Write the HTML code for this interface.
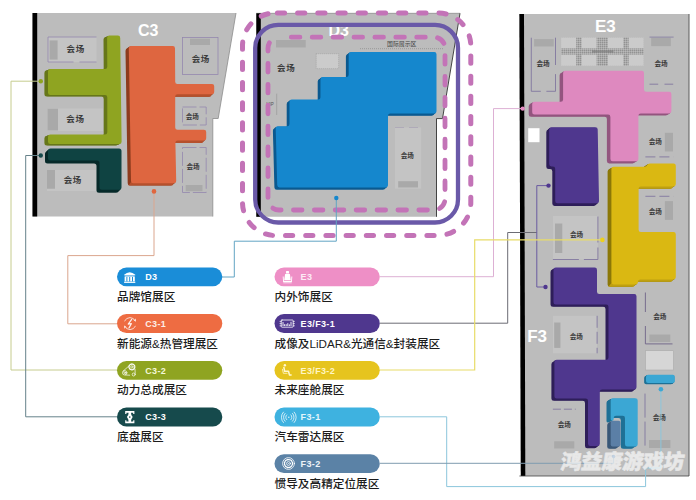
<!DOCTYPE html>
<html><head><meta charset="utf-8"><title>Exhibition floor plan</title>
<style>
html,body{margin:0;padding:0;background:#fff;}
body{width:696px;height:500px;overflow:hidden;font-family:"Liberation Sans","Noto Sans CJK SC",sans-serif;}
svg{display:block;font-family:"Liberation Sans","Noto Sans CJK SC",sans-serif;}
</style></head>
<body>
<svg width="696" height="500" viewBox="0 0 696 500">
<g id="hall-c3">
<polygon points="32.5,13.0 236.0,13.0 218.2,118.5 212.8,118.5 212.8,216.5 32.5,216.5" fill="#bcbcbc" />
<polyline points="236.0,13.0 218.2,118.5 212.8,118.5 212.8,216.5" fill="none" stroke="#8c8c8c" stroke-width="0.8" />
<rect x="32.5" y="13.0" width="4.7" height="203.5" fill="#000" />
<rect x="48.0" y="37.0" width="48.5" height="25.0" fill="#c4c4c4" />
<polyline points="96.5,37.0 48.0,37.0 48.0,62.0 73.5,62.0" fill="none" stroke="#9488ae" stroke-width="0.8" />
<polyline points="79.5,62.0 96.5,62.0" fill="none" stroke="#9488ae" stroke-width="0.8" />
<rect x="49.6" y="40.4" width="8.0" height="19.2" fill="#a9a9a9" />
<text x="66.45" y="52.15" font-size="8.5" font-weight="700" fill="#3c3c3c" letter-spacing="0.7">会场</text>
<rect x="47.5" y="108.5" width="55.5" height="22.5" fill="#c4c4c4" />
<rect x="47.5" y="108.7" width="10.5" height="21.8" fill="#a9a9a9" />
<text x="66.25" y="121.94" font-size="8.5" font-weight="700" fill="#3c3c3c" letter-spacing="0.7">会场</text>
<rect x="47.0" y="170.0" width="49.0" height="21.0" fill="#c4c4c4" />
<rect x="47.0" y="170.0" width="8.0" height="18.7" fill="#a9a9a9" />
<text x="63.65" y="182.55" font-size="8.5" font-weight="700" fill="#3c3c3c" letter-spacing="0.7">会场</text>
<rect x="182.5" y="37.5" width="35.5" height="37.0" fill="#bcbcbc" stroke="#9488ae" stroke-width="0.8"/>
<rect x="190.0" y="38.7" width="20.0" height="6.3" fill="#a9a9a9" />
<text x="191.65" y="61.95" font-size="8.5" font-weight="700" fill="#3c3c3c" letter-spacing="0.7">会场</text>
<rect x="182.5" y="107.0" width="23.7" height="18.0" fill="#bcbcbc" stroke="#9488ae" stroke-width="0.8" stroke-dasharray="14 3"/>
<text x="185.70" y="119.34" font-size="6.6" font-weight="700" fill="#3c3c3c">会场</text>
<rect x="182.5" y="147.5" width="23.7" height="45.0" fill="#bcbcbc" stroke="#9488ae" stroke-width="0.8" stroke-dasharray="14 3"/>
<rect x="185.7" y="185.0" width="16.8" height="6.2" fill="#a9a9a9" />
<text x="186.40" y="169.34" font-size="6.6" font-weight="700" fill="#3c3c3c">会场</text>
<path d="M107.1,37.9Q107.1,35.6 109.4,35.6L117.9,35.6Q120.2,35.6 120.2,37.9L121.6,141.7Q121.6,144.0 119.3,144.0L50.3,144.0Q48.0,144.0 48.0,141.7L48.0,136.8Q48.0,134.5 50.3,134.5L105.0,134.5Q107.3,134.5 107.3,132.2L107.3,97.3Q107.3,95.0 105.0,95.0L50.3,95.0Q48.0,95.0 48.0,92.7L48.0,71.3Q48.0,69.0 50.3,69.0L105.0,69.0Q107.3,69.0 107.3,66.7Z" fill="#67771a" transform="translate(-3.60,1.60)"/><path d="M107.1,37.9Q107.1,35.6 109.4,35.6L117.9,35.6Q120.2,35.6 120.2,37.9L121.6,141.7Q121.6,144.0 119.3,144.0L50.3,144.0Q48.0,144.0 48.0,141.7L48.0,136.8Q48.0,134.5 50.3,134.5L105.0,134.5Q107.3,134.5 107.3,132.2L107.3,97.3Q107.3,95.0 105.0,95.0L50.3,95.0Q48.0,95.0 48.0,92.7L48.0,71.3Q48.0,69.0 50.3,69.0L105.0,69.0Q107.3,69.0 107.3,66.7Z" fill="#67771a" transform="translate(-2.70,1.20)"/><path d="M107.1,37.9Q107.1,35.6 109.4,35.6L117.9,35.6Q120.2,35.6 120.2,37.9L121.6,141.7Q121.6,144.0 119.3,144.0L50.3,144.0Q48.0,144.0 48.0,141.7L48.0,136.8Q48.0,134.5 50.3,134.5L105.0,134.5Q107.3,134.5 107.3,132.2L107.3,97.3Q107.3,95.0 105.0,95.0L50.3,95.0Q48.0,95.0 48.0,92.7L48.0,71.3Q48.0,69.0 50.3,69.0L105.0,69.0Q107.3,69.0 107.3,66.7Z" fill="#67771a" transform="translate(-1.80,0.80)"/><path d="M107.1,37.9Q107.1,35.6 109.4,35.6L117.9,35.6Q120.2,35.6 120.2,37.9L121.6,141.7Q121.6,144.0 119.3,144.0L50.3,144.0Q48.0,144.0 48.0,141.7L48.0,136.8Q48.0,134.5 50.3,134.5L105.0,134.5Q107.3,134.5 107.3,132.2L107.3,97.3Q107.3,95.0 105.0,95.0L50.3,95.0Q48.0,95.0 48.0,92.7L48.0,71.3Q48.0,69.0 50.3,69.0L105.0,69.0Q107.3,69.0 107.3,66.7Z" fill="#67771a" transform="translate(-0.90,0.40)"/><path d="M107.1,37.9Q107.1,35.6 109.4,35.6L117.9,35.6Q120.2,35.6 120.2,37.9L121.6,141.7Q121.6,144.0 119.3,144.0L50.3,144.0Q48.0,144.0 48.0,141.7L48.0,136.8Q48.0,134.5 50.3,134.5L105.0,134.5Q107.3,134.5 107.3,132.2L107.3,97.3Q107.3,95.0 105.0,95.0L50.3,95.0Q48.0,95.0 48.0,92.7L48.0,71.3Q48.0,69.0 50.3,69.0L105.0,69.0Q107.3,69.0 107.3,66.7Z" fill="#8fa421"/>
<path d="M48.0,150.9Q48.0,148.4 50.5,148.4L119.0,148.4Q121.5,148.4 121.5,150.9L121.5,187.3Q121.5,189.8 119.0,189.8L102.0,189.8Q99.5,189.8 99.5,187.3L99.5,163.0Q99.5,160.5 97.0,160.5L50.5,160.5Q48.0,160.5 48.0,158.0Z" fill="#072a2a" transform="translate(-3.00,3.00)"/><path d="M48.0,150.9Q48.0,148.4 50.5,148.4L119.0,148.4Q121.5,148.4 121.5,150.9L121.5,187.3Q121.5,189.8 119.0,189.8L102.0,189.8Q99.5,189.8 99.5,187.3L99.5,163.0Q99.5,160.5 97.0,160.5L50.5,160.5Q48.0,160.5 48.0,158.0Z" fill="#072a2a" transform="translate(-2.25,2.25)"/><path d="M48.0,150.9Q48.0,148.4 50.5,148.4L119.0,148.4Q121.5,148.4 121.5,150.9L121.5,187.3Q121.5,189.8 119.0,189.8L102.0,189.8Q99.5,189.8 99.5,187.3L99.5,163.0Q99.5,160.5 97.0,160.5L50.5,160.5Q48.0,160.5 48.0,158.0Z" fill="#072a2a" transform="translate(-1.50,1.50)"/><path d="M48.0,150.9Q48.0,148.4 50.5,148.4L119.0,148.4Q121.5,148.4 121.5,150.9L121.5,187.3Q121.5,189.8 119.0,189.8L102.0,189.8Q99.5,189.8 99.5,187.3L99.5,163.0Q99.5,160.5 97.0,160.5L50.5,160.5Q48.0,160.5 48.0,158.0Z" fill="#072a2a" transform="translate(-0.75,0.75)"/><path d="M48.0,150.9Q48.0,148.4 50.5,148.4L119.0,148.4Q121.5,148.4 121.5,150.9L121.5,187.3Q121.5,189.8 119.0,189.8L102.0,189.8Q99.5,189.8 99.5,187.3L99.5,163.0Q99.5,160.5 97.0,160.5L50.5,160.5Q48.0,160.5 48.0,158.0Z" fill="#0f4342"/>
<path d="M128.8,48.3Q128.8,46.0 131.1,46.0L172.7,46.0Q175.0,46.0 175.0,48.3L175.2,81.7Q175.2,84.0 177.5,84.0L211.9,84.0Q214.2,84.0 214.2,86.3L214.2,92.0Q214.2,94.3 211.9,94.3L177.5,94.3Q175.2,94.3 175.2,96.6L175.2,127.4Q175.2,129.7 177.5,129.7L203.9,129.7Q206.2,129.7 206.2,132.0L206.2,138.2Q206.2,140.5 203.9,140.5L177.7,140.5Q175.4,140.5 175.4,142.8L176.2,180.9Q176.2,183.2 173.9,183.2L133.3,183.2Q131.0,183.2 131.0,180.9Z" fill="#8e3c1e" transform="translate(-3.30,2.40)"/><path d="M128.8,48.3Q128.8,46.0 131.1,46.0L172.7,46.0Q175.0,46.0 175.0,48.3L175.2,81.7Q175.2,84.0 177.5,84.0L211.9,84.0Q214.2,84.0 214.2,86.3L214.2,92.0Q214.2,94.3 211.9,94.3L177.5,94.3Q175.2,94.3 175.2,96.6L175.2,127.4Q175.2,129.7 177.5,129.7L203.9,129.7Q206.2,129.7 206.2,132.0L206.2,138.2Q206.2,140.5 203.9,140.5L177.7,140.5Q175.4,140.5 175.4,142.8L176.2,180.9Q176.2,183.2 173.9,183.2L133.3,183.2Q131.0,183.2 131.0,180.9Z" fill="#8e3c1e" transform="translate(-2.47,1.80)"/><path d="M128.8,48.3Q128.8,46.0 131.1,46.0L172.7,46.0Q175.0,46.0 175.0,48.3L175.2,81.7Q175.2,84.0 177.5,84.0L211.9,84.0Q214.2,84.0 214.2,86.3L214.2,92.0Q214.2,94.3 211.9,94.3L177.5,94.3Q175.2,94.3 175.2,96.6L175.2,127.4Q175.2,129.7 177.5,129.7L203.9,129.7Q206.2,129.7 206.2,132.0L206.2,138.2Q206.2,140.5 203.9,140.5L177.7,140.5Q175.4,140.5 175.4,142.8L176.2,180.9Q176.2,183.2 173.9,183.2L133.3,183.2Q131.0,183.2 131.0,180.9Z" fill="#8e3c1e" transform="translate(-1.65,1.20)"/><path d="M128.8,48.3Q128.8,46.0 131.1,46.0L172.7,46.0Q175.0,46.0 175.0,48.3L175.2,81.7Q175.2,84.0 177.5,84.0L211.9,84.0Q214.2,84.0 214.2,86.3L214.2,92.0Q214.2,94.3 211.9,94.3L177.5,94.3Q175.2,94.3 175.2,96.6L175.2,127.4Q175.2,129.7 177.5,129.7L203.9,129.7Q206.2,129.7 206.2,132.0L206.2,138.2Q206.2,140.5 203.9,140.5L177.7,140.5Q175.4,140.5 175.4,142.8L176.2,180.9Q176.2,183.2 173.9,183.2L133.3,183.2Q131.0,183.2 131.0,180.9Z" fill="#8e3c1e" transform="translate(-0.82,0.60)"/><polygon points="213.6,92.0 176.0,92.0 172.7,96.7 210.3,96.7" fill="#b5502c"/><polygon points="205.6,138.2 176.2,138.2 172.9,142.9 202.3,142.9" fill="#b5502c"/><polygon points="175.6,180.9 131.8,180.9 128.5,185.6 172.3,185.6" fill="#b5502c"/><path d="M128.8,48.3Q128.8,46.0 131.1,46.0L172.7,46.0Q175.0,46.0 175.0,48.3L175.2,81.7Q175.2,84.0 177.5,84.0L211.9,84.0Q214.2,84.0 214.2,86.3L214.2,92.0Q214.2,94.3 211.9,94.3L177.5,94.3Q175.2,94.3 175.2,96.6L175.2,127.4Q175.2,129.7 177.5,129.7L203.9,129.7Q206.2,129.7 206.2,132.0L206.2,138.2Q206.2,140.5 203.9,140.5L177.7,140.5Q175.4,140.5 175.4,142.8L176.2,180.9Q176.2,183.2 173.9,183.2L133.3,183.2Q131.0,183.2 131.0,180.9Z" fill="#de6640"/>
<text x="138" y="36" font-size="16" font-weight="700" fill="#fff">C3</text>
</g>
<g id="hall-d3">
<polygon points="256.3,13.3 460.0,13.3 442.5,118.6 436.7,118.6 436.7,216.8 256.3,216.8" fill="#bcbcbc" />
<polyline points="256.3,13.3 460.0,13.3" fill="none" stroke="#777" stroke-width="0.6" />
<polyline points="460.0,13.3 442.5,118.6 436.5,118.6 436.5,216.8" fill="none" stroke="#333" stroke-width="0.9" />
<rect x="256.3" y="13.3" width="4.5" height="203.5" fill="#000" />
<rect x="276.0" y="40.0" width="29.7" height="7.5" fill="#a9a9a9" />
<text x="276.95" y="71.34" font-size="8.5" font-weight="700" fill="#3c3c3c" letter-spacing="0.7">会场</text>
<rect x="316.2" y="53.7" width="22.5" height="15.0" fill="#cbcbcb" stroke="#999" stroke-width="0.6" stroke-dasharray="1 1"/>
<polyline points="276.7,93.7 276.7,115.0" fill="none" stroke="#999" stroke-width="0.7" />
<text x="266.5" y="106.2" font-size="4.5" fill="#555">VIP</text>
<polyline points="360.0,48.7 443.7,48.7" fill="none" stroke="#888" stroke-width="0.7" stroke-dasharray="1 1"/>
<text x="387.00" y="45.90" font-size="5.9" fill="#444">国际展示区</text>
<rect x="395.0" y="127.5" width="26.2" height="61.2" fill="#c4c4c4" />
<rect x="398.2" y="181.2" width="19.8" height="6.3" fill="#a9a9a9" />
<polyline points="395.0,127.5 421.2,127.5" fill="none" stroke="#a8a0b4" stroke-width="0.7" stroke-dasharray="9 5"/>
<text x="400.70" y="158.44" font-size="6.6" font-weight="700" fill="#3c3c3c">会场</text>
<path d="M348.7,54.3Q348.7,52.0 351.0,52.0L434.2,52.0Q436.5,52.0 436.5,54.3L436.5,111.2Q436.5,113.5 434.2,113.5L390.3,113.5Q388.0,113.5 388.0,115.8L388.0,185.1Q388.0,187.4 385.7,187.4L279.6,187.4Q277.3,187.4 277.2,185.1L275.7,128.5Q275.6,126.2 277.9,126.2L287.2,126.2Q289.5,126.2 289.5,123.9L289.5,101.8Q289.5,99.5 291.8,99.5L318.2,99.5Q320.5,99.5 320.5,97.2L320.5,79.3Q320.5,77.0 322.8,77.0L346.4,77.0Q348.7,77.0 348.7,74.7Z" fill="#0b5a90" transform="translate(-2.80,2.30)"/><path d="M348.7,54.3Q348.7,52.0 351.0,52.0L434.2,52.0Q436.5,52.0 436.5,54.3L436.5,111.2Q436.5,113.5 434.2,113.5L390.3,113.5Q388.0,113.5 388.0,115.8L388.0,185.1Q388.0,187.4 385.7,187.4L279.6,187.4Q277.3,187.4 277.2,185.1L275.7,128.5Q275.6,126.2 277.9,126.2L287.2,126.2Q289.5,126.2 289.5,123.9L289.5,101.8Q289.5,99.5 291.8,99.5L318.2,99.5Q320.5,99.5 320.5,97.2L320.5,79.3Q320.5,77.0 322.8,77.0L346.4,77.0Q348.7,77.0 348.7,74.7Z" fill="#0b5a90" transform="translate(-2.10,1.72)"/><path d="M348.7,54.3Q348.7,52.0 351.0,52.0L434.2,52.0Q436.5,52.0 436.5,54.3L436.5,111.2Q436.5,113.5 434.2,113.5L390.3,113.5Q388.0,113.5 388.0,115.8L388.0,185.1Q388.0,187.4 385.7,187.4L279.6,187.4Q277.3,187.4 277.2,185.1L275.7,128.5Q275.6,126.2 277.9,126.2L287.2,126.2Q289.5,126.2 289.5,123.9L289.5,101.8Q289.5,99.5 291.8,99.5L318.2,99.5Q320.5,99.5 320.5,97.2L320.5,79.3Q320.5,77.0 322.8,77.0L346.4,77.0Q348.7,77.0 348.7,74.7Z" fill="#0b5a90" transform="translate(-1.40,1.15)"/><path d="M348.7,54.3Q348.7,52.0 351.0,52.0L434.2,52.0Q436.5,52.0 436.5,54.3L436.5,111.2Q436.5,113.5 434.2,113.5L390.3,113.5Q388.0,113.5 388.0,115.8L388.0,185.1Q388.0,187.4 385.7,187.4L279.6,187.4Q277.3,187.4 277.2,185.1L275.7,128.5Q275.6,126.2 277.9,126.2L287.2,126.2Q289.5,126.2 289.5,123.9L289.5,101.8Q289.5,99.5 291.8,99.5L318.2,99.5Q320.5,99.5 320.5,97.2L320.5,79.3Q320.5,77.0 322.8,77.0L346.4,77.0Q348.7,77.0 348.7,74.7Z" fill="#0b5a90" transform="translate(-0.70,0.57)"/><path d="M348.7,54.3Q348.7,52.0 351.0,52.0L434.2,52.0Q436.5,52.0 436.5,54.3L436.5,111.2Q436.5,113.5 434.2,113.5L390.3,113.5Q388.0,113.5 388.0,115.8L388.0,185.1Q388.0,187.4 385.7,187.4L279.6,187.4Q277.3,187.4 277.2,185.1L275.7,128.5Q275.6,126.2 277.9,126.2L287.2,126.2Q289.5,126.2 289.5,123.9L289.5,101.8Q289.5,99.5 291.8,99.5L318.2,99.5Q320.5,99.5 320.5,97.2L320.5,79.3Q320.5,77.0 322.8,77.0L346.4,77.0Q348.7,77.0 348.7,74.7Z" fill="#1587cd"/>
<text x="328.5" y="36.2" font-size="16" font-weight="700" fill="#fff">D3</text>
</g>
<rect x="242.5" y="12.9" width="228.3" height="222.6" rx="33" ry="33" fill="none" stroke="#c373b7" stroke-width="5" stroke-dasharray="7.2 13" stroke-dashoffset="-1.9" stroke-linecap="round"/>
<rect x="255.2" y="24.9" width="202.8" height="197.6" rx="23" ry="23" fill="none" stroke="#6a59a8" stroke-width="4.3"/>
<rect x="268" y="37.2" width="177" height="172.8" rx="11" ry="11" fill="none" stroke="#c373b7" stroke-width="4.8" stroke-dasharray="8.6 12.3" stroke-dashoffset="8.6" stroke-linecap="round"/>
<g id="hall-ef3">
<polygon points="519.4,14.0 689.2,14.0 689.2,476.0 520.8,476.0" fill="#bcbcbc" />
<polygon points="519.4,14.0 524.0,14.0 525.3,476.0 520.8,476.0" fill="#000" />
<polyline points="519.4,476.0 689.0,476.0 689.0,14.0" fill="none" stroke="#444" stroke-width="0.8" />
<defs><pattern id="hatch" width="2" height="2" patternUnits="userSpaceOnUse"><rect width="2" height="2" fill="#a9a9a9"/><rect width="1" height="1" fill="#929292"/><rect x="1" y="1" width="1" height="1" fill="#b9b9b9"/></pattern></defs>
<rect x="561.1" y="37.5" width="82.6" height="28.3" fill="url(#hatch)" />
<rect x="561.1" y="37.5" width="15.1" height="10.9" fill="#cbcbcb" />
<rect x="561.1" y="54.6" width="15.1" height="11.2" fill="#cbcbcb" />
<rect x="581.6" y="37.5" width="15.0" height="10.9" fill="#cbcbcb" />
<rect x="581.6" y="54.6" width="15.0" height="11.2" fill="#cbcbcb" />
<rect x="608.0" y="37.5" width="15.3" height="10.9" fill="#cbcbcb" />
<rect x="608.0" y="54.6" width="15.3" height="11.2" fill="#cbcbcb" />
<rect x="628.7" y="37.5" width="15.0" height="10.9" fill="#cbcbcb" />
<rect x="628.7" y="54.6" width="15.0" height="11.2" fill="#cbcbcb" />
<rect x="592.0" y="50.4" width="21.5" height="2.2" fill="#6e6e6e" opacity="0.55"/>
<polyline points="531.3,37.7 531.3,91.3 540.8,91.3" fill="none" stroke="#7a6f9c" stroke-width="0.8" />
<polyline points="546.4,91.3 555.5,91.3 555.5,74.1" fill="none" stroke="#7a6f9c" stroke-width="0.8" />
<polyline points="555.5,65.0 555.5,37.7" fill="none" stroke="#7a6f9c" stroke-width="0.8" />
<rect x="534.1" y="39.1" width="19.6" height="7.4" fill="#a9a9a9" />
<text x="536.40" y="66.14" font-size="6.6" font-weight="700" fill="#3c3c3c">会场</text>
<rect x="651.2" y="37.7" width="19.6" height="8.4" fill="#a9a9a9" />
<text x="654.40" y="66.14" font-size="6.6" font-weight="700" fill="#3c3c3c">会场</text>
<polyline points="649.5,84.2 673.6,84.2" fill="none" stroke="#7a6f9c" stroke-width="0.8" stroke-dasharray="8.7 6.3"/>
<polyline points="649.5,37.1 673.6,37.1" fill="none" stroke="#7a6f9c" stroke-width="0.7" />
<rect x="664.9" y="132.8" width="8.1" height="18.7" fill="#a9a9a9" />
<text x="648.70" y="143.94" font-size="6.6" font-weight="700" fill="#3c3c3c">会场</text>
<polyline points="645.4,156.9 673.5,156.9" fill="none" stroke="#7a6f9c" stroke-width="0.8" stroke-dasharray="10 4"/>
<rect x="664.9" y="201.1" width="8.1" height="18.8" fill="#a9a9a9" />
<text x="648.70" y="214.24" font-size="6.6" font-weight="700" fill="#3c3c3c">会场</text>
<polyline points="645.4,196.3 673.5,196.3" fill="none" stroke="#7a6f9c" stroke-width="0.8" stroke-dasharray="10 4"/>
<rect x="528.2" y="128.2" width="11.3" height="14.0" fill="#fff" />
<rect x="552.9" y="215.9" width="45.0" height="43.6" fill="#c4c4c4" />
<rect x="555.0" y="223.5" width="7.3" height="29.5" fill="#a9a9a9" />
<text x="570.00" y="237.24" font-size="6.6" font-weight="700" fill="#3c3c3c">会场</text>
<polyline points="552.9,259.5 597.9,259.5 597.9,215.9" fill="none" stroke="#7a6f9c" stroke-width="0.8" stroke-dasharray="26 5"/>
<rect x="552.9" y="315.8" width="44.2" height="37.5" fill="#c4c4c4" />
<rect x="554.2" y="322.5" width="6.2" height="25.4" fill="#a9a9a9" />
<text x="569.70" y="339.04" font-size="6.6" font-weight="700" fill="#3c3c3c">会场</text>
<polyline points="597.1,315.8 597.1,353.3" fill="none" stroke="#7a6f9c" stroke-width="0.8" stroke-dasharray="12 4"/>
<text x="653.20" y="318.94" font-size="6.6" font-weight="700" fill="#3c3c3c">会场</text>
<rect x="649.4" y="334.5" width="20.9" height="7.5" fill="#a9a9a9" />
<polyline points="645.4,292.5 645.4,343.9 673.0,343.9" fill="none" stroke="#6f6488" stroke-width="0.9" stroke-dasharray="19.5 14 45 4 40"/>
<rect x="645.4" y="350.7" width="28.1" height="19.3" fill="#d6d6d6" stroke="#aaa" stroke-width="0.6"/>
<polyline points="552.9,409.2 575.7,409.2" fill="none" stroke="#7a6f9c" stroke-width="0.8" stroke-dasharray="8 3"/>
<text x="557.70" y="426.84" font-size="6.6" font-weight="700" fill="#3c3c3c">会场</text>
<rect x="554.2" y="441.3" width="20.1" height="7.2" fill="#a9a9a9" />
<polyline points="645.0,393.6 645.0,448.5" fill="none" stroke="#7a6f9c" stroke-width="0.8" stroke-dasharray="24 4"/>
<text x="652.70" y="420.44" font-size="6.6" font-weight="700" fill="#3c3c3c">会场</text>
<rect x="649.0" y="440.0" width="21.4" height="8.0" fill="#a9a9a9" />
<path d="M563.1,73.1Q563.1,70.8 565.4,70.8L641.7,70.8Q644.0,70.8 644.0,73.1L644.0,89.4Q644.0,91.7 646.3,91.7L669.1,91.7Q671.4,91.7 671.4,94.0L671.4,111.1Q671.4,113.4 669.1,113.4L640.7,113.4Q638.4,113.4 638.4,115.7L638.4,158.9Q638.4,161.2 636.1,161.2L612.7,161.2Q610.4,161.2 610.4,158.9L610.4,116.9Q610.4,114.6 608.1,114.6L534.5,114.6Q532.2,114.6 532.2,112.3L532.2,104.0Q532.2,101.7 534.5,101.7L560.8,101.7Q563.1,101.7 563.1,99.4Z" fill="#93557f" transform="translate(-3.50,2.20)"/><path d="M563.1,73.1Q563.1,70.8 565.4,70.8L641.7,70.8Q644.0,70.8 644.0,73.1L644.0,89.4Q644.0,91.7 646.3,91.7L669.1,91.7Q671.4,91.7 671.4,94.0L671.4,111.1Q671.4,113.4 669.1,113.4L640.7,113.4Q638.4,113.4 638.4,115.7L638.4,158.9Q638.4,161.2 636.1,161.2L612.7,161.2Q610.4,161.2 610.4,158.9L610.4,116.9Q610.4,114.6 608.1,114.6L534.5,114.6Q532.2,114.6 532.2,112.3L532.2,104.0Q532.2,101.7 534.5,101.7L560.8,101.7Q563.1,101.7 563.1,99.4Z" fill="#93557f" transform="translate(-2.62,1.65)"/><path d="M563.1,73.1Q563.1,70.8 565.4,70.8L641.7,70.8Q644.0,70.8 644.0,73.1L644.0,89.4Q644.0,91.7 646.3,91.7L669.1,91.7Q671.4,91.7 671.4,94.0L671.4,111.1Q671.4,113.4 669.1,113.4L640.7,113.4Q638.4,113.4 638.4,115.7L638.4,158.9Q638.4,161.2 636.1,161.2L612.7,161.2Q610.4,161.2 610.4,158.9L610.4,116.9Q610.4,114.6 608.1,114.6L534.5,114.6Q532.2,114.6 532.2,112.3L532.2,104.0Q532.2,101.7 534.5,101.7L560.8,101.7Q563.1,101.7 563.1,99.4Z" fill="#93557f" transform="translate(-1.75,1.10)"/><path d="M563.1,73.1Q563.1,70.8 565.4,70.8L641.7,70.8Q644.0,70.8 644.0,73.1L644.0,89.4Q644.0,91.7 646.3,91.7L669.1,91.7Q671.4,91.7 671.4,94.0L671.4,111.1Q671.4,113.4 669.1,113.4L640.7,113.4Q638.4,113.4 638.4,115.7L638.4,158.9Q638.4,161.2 636.1,161.2L612.7,161.2Q610.4,161.2 610.4,158.9L610.4,116.9Q610.4,114.6 608.1,114.6L534.5,114.6Q532.2,114.6 532.2,112.3L532.2,104.0Q532.2,101.7 534.5,101.7L560.8,101.7Q563.1,101.7 563.1,99.4Z" fill="#93557f" transform="translate(-0.88,0.55)"/><path d="M563.1,73.1Q563.1,70.8 565.4,70.8L641.7,70.8Q644.0,70.8 644.0,73.1L644.0,89.4Q644.0,91.7 646.3,91.7L669.1,91.7Q671.4,91.7 671.4,94.0L671.4,111.1Q671.4,113.4 669.1,113.4L640.7,113.4Q638.4,113.4 638.4,115.7L638.4,158.9Q638.4,161.2 636.1,161.2L612.7,161.2Q610.4,161.2 610.4,158.9L610.4,116.9Q610.4,114.6 608.1,114.6L534.5,114.6Q532.2,114.6 532.2,112.3L532.2,104.0Q532.2,101.7 534.5,101.7L560.8,101.7Q563.1,101.7 563.1,99.4Z" fill="#de89bf"/>
<path d="M549.2,129.5Q549.2,127.2 551.5,127.2L595.4,127.2Q597.7,127.2 597.7,129.5L599.0,201.0Q599.0,203.3 596.7,203.3L557.5,203.3Q555.2,203.3 555.2,201.0L555.2,168.7Q555.2,166.4 552.9,166.4L551.5,166.4Q549.2,166.4 549.2,164.1Z" fill="#2f1f5a" transform="translate(-2.90,2.60)"/><path d="M549.2,129.5Q549.2,127.2 551.5,127.2L595.4,127.2Q597.7,127.2 597.7,129.5L599.0,201.0Q599.0,203.3 596.7,203.3L557.5,203.3Q555.2,203.3 555.2,201.0L555.2,168.7Q555.2,166.4 552.9,166.4L551.5,166.4Q549.2,166.4 549.2,164.1Z" fill="#2f1f5a" transform="translate(-2.17,1.95)"/><path d="M549.2,129.5Q549.2,127.2 551.5,127.2L595.4,127.2Q597.7,127.2 597.7,129.5L599.0,201.0Q599.0,203.3 596.7,203.3L557.5,203.3Q555.2,203.3 555.2,201.0L555.2,168.7Q555.2,166.4 552.9,166.4L551.5,166.4Q549.2,166.4 549.2,164.1Z" fill="#2f1f5a" transform="translate(-1.45,1.30)"/><path d="M549.2,129.5Q549.2,127.2 551.5,127.2L595.4,127.2Q597.7,127.2 597.7,129.5L599.0,201.0Q599.0,203.3 596.7,203.3L557.5,203.3Q555.2,203.3 555.2,201.0L555.2,168.7Q555.2,166.4 552.9,166.4L551.5,166.4Q549.2,166.4 549.2,164.1Z" fill="#2f1f5a" transform="translate(-0.72,0.65)"/><path d="M549.2,129.5Q549.2,127.2 551.5,127.2L595.4,127.2Q597.7,127.2 597.7,129.5L599.0,201.0Q599.0,203.3 596.7,203.3L557.5,203.3Q555.2,203.3 555.2,201.0L555.2,168.7Q555.2,166.4 552.9,166.4L551.5,166.4Q549.2,166.4 549.2,164.1Z" fill="#4f378e"/>
<path d="M611.4,169.1Q611.4,166.8 613.7,166.8L644.6,166.8Q646.5,166.8 647.2,165.1L647.2,165.1Q648.0,163.4 649.9,163.4L673.5,163.4Q675.8,163.4 675.8,165.7L675.8,184.1Q675.8,186.4 673.5,186.4L640.9,186.4Q638.6,186.4 638.6,188.7L638.6,229.7Q638.6,232.0 640.9,232.0L673.5,232.0Q675.8,232.0 675.8,234.3L675.8,277.1Q675.8,279.4 673.5,279.4L640.3,279.4Q638.0,279.4 638.0,281.7L638.0,282.1Q638.0,284.4 635.7,284.4L613.7,284.4Q611.4,284.4 611.4,282.1Z" fill="#8c7808" transform="translate(-3.80,2.40)"/><path d="M611.4,169.1Q611.4,166.8 613.7,166.8L644.6,166.8Q646.5,166.8 647.2,165.1L647.2,165.1Q648.0,163.4 649.9,163.4L673.5,163.4Q675.8,163.4 675.8,165.7L675.8,184.1Q675.8,186.4 673.5,186.4L640.9,186.4Q638.6,186.4 638.6,188.7L638.6,229.7Q638.6,232.0 640.9,232.0L673.5,232.0Q675.8,232.0 675.8,234.3L675.8,277.1Q675.8,279.4 673.5,279.4L640.3,279.4Q638.0,279.4 638.0,281.7L638.0,282.1Q638.0,284.4 635.7,284.4L613.7,284.4Q611.4,284.4 611.4,282.1Z" fill="#8c7808" transform="translate(-2.85,1.80)"/><path d="M611.4,169.1Q611.4,166.8 613.7,166.8L644.6,166.8Q646.5,166.8 647.2,165.1L647.2,165.1Q648.0,163.4 649.9,163.4L673.5,163.4Q675.8,163.4 675.8,165.7L675.8,184.1Q675.8,186.4 673.5,186.4L640.9,186.4Q638.6,186.4 638.6,188.7L638.6,229.7Q638.6,232.0 640.9,232.0L673.5,232.0Q675.8,232.0 675.8,234.3L675.8,277.1Q675.8,279.4 673.5,279.4L640.3,279.4Q638.0,279.4 638.0,281.7L638.0,282.1Q638.0,284.4 635.7,284.4L613.7,284.4Q611.4,284.4 611.4,282.1Z" fill="#8c7808" transform="translate(-1.90,1.20)"/><path d="M611.4,169.1Q611.4,166.8 613.7,166.8L644.6,166.8Q646.5,166.8 647.2,165.1L647.2,165.1Q648.0,163.4 649.9,163.4L673.5,163.4Q675.8,163.4 675.8,165.7L675.8,184.1Q675.8,186.4 673.5,186.4L640.9,186.4Q638.6,186.4 638.6,188.7L638.6,229.7Q638.6,232.0 640.9,232.0L673.5,232.0Q675.8,232.0 675.8,234.3L675.8,277.1Q675.8,279.4 673.5,279.4L640.3,279.4Q638.0,279.4 638.0,281.7L638.0,282.1Q638.0,284.4 635.7,284.4L613.7,284.4Q611.4,284.4 611.4,282.1Z" fill="#8c7808" transform="translate(-0.95,0.60)"/><polygon points="675.2,184.1 639.4,184.1 635.6,188.8 671.4,188.8" fill="#bfa010"/><polygon points="675.2,277.1 638.8,277.1 635.0,281.8 671.4,281.8" fill="#bfa010"/><polygon points="637.4,282.1 612.2,282.1 608.4,286.8 633.6,286.8" fill="#bfa010"/><path d="M611.4,169.1Q611.4,166.8 613.7,166.8L644.6,166.8Q646.5,166.8 647.2,165.1L647.2,165.1Q648.0,163.4 649.9,163.4L673.5,163.4Q675.8,163.4 675.8,165.7L675.8,184.1Q675.8,186.4 673.5,186.4L640.9,186.4Q638.6,186.4 638.6,188.7L638.6,229.7Q638.6,232.0 640.9,232.0L673.5,232.0Q675.8,232.0 675.8,234.3L675.8,277.1Q675.8,279.4 673.5,279.4L640.3,279.4Q638.0,279.4 638.0,281.7L638.0,282.1Q638.0,284.4 635.7,284.4L613.7,284.4Q611.4,284.4 611.4,282.1Z" fill="#dab812"/>
<path d="M553.5,269.9Q553.5,267.6 555.8,267.6L594.7,267.6Q597.0,267.6 597.0,269.9L597.0,291.7Q597.0,294.0 599.3,294.0L634.2,294.0Q636.5,294.0 636.5,296.3L636.5,387.2Q636.5,389.5 634.2,389.5L602.1,389.5Q599.8,389.5 599.8,391.8L599.8,443.7Q599.8,446.0 597.5,446.0L590.3,446.0Q588.0,446.0 588.0,443.7L588.0,400.8Q588.0,398.5 585.7,398.5L556.7,398.5Q554.4,398.5 554.4,396.2L554.4,362.1Q554.4,359.8 556.7,359.8L606.2,359.8Q608.5,359.8 608.5,357.5L608.5,306.8Q608.5,304.5 606.2,304.5L555.8,304.5Q553.5,304.5 553.5,302.2Z" fill="#2f1f5a" transform="translate(-3.00,2.20)"/><path d="M553.5,269.9Q553.5,267.6 555.8,267.6L594.7,267.6Q597.0,267.6 597.0,269.9L597.0,291.7Q597.0,294.0 599.3,294.0L634.2,294.0Q636.5,294.0 636.5,296.3L636.5,387.2Q636.5,389.5 634.2,389.5L602.1,389.5Q599.8,389.5 599.8,391.8L599.8,443.7Q599.8,446.0 597.5,446.0L590.3,446.0Q588.0,446.0 588.0,443.7L588.0,400.8Q588.0,398.5 585.7,398.5L556.7,398.5Q554.4,398.5 554.4,396.2L554.4,362.1Q554.4,359.8 556.7,359.8L606.2,359.8Q608.5,359.8 608.5,357.5L608.5,306.8Q608.5,304.5 606.2,304.5L555.8,304.5Q553.5,304.5 553.5,302.2Z" fill="#2f1f5a" transform="translate(-2.25,1.65)"/><path d="M553.5,269.9Q553.5,267.6 555.8,267.6L594.7,267.6Q597.0,267.6 597.0,269.9L597.0,291.7Q597.0,294.0 599.3,294.0L634.2,294.0Q636.5,294.0 636.5,296.3L636.5,387.2Q636.5,389.5 634.2,389.5L602.1,389.5Q599.8,389.5 599.8,391.8L599.8,443.7Q599.8,446.0 597.5,446.0L590.3,446.0Q588.0,446.0 588.0,443.7L588.0,400.8Q588.0,398.5 585.7,398.5L556.7,398.5Q554.4,398.5 554.4,396.2L554.4,362.1Q554.4,359.8 556.7,359.8L606.2,359.8Q608.5,359.8 608.5,357.5L608.5,306.8Q608.5,304.5 606.2,304.5L555.8,304.5Q553.5,304.5 553.5,302.2Z" fill="#2f1f5a" transform="translate(-1.50,1.10)"/><path d="M553.5,269.9Q553.5,267.6 555.8,267.6L594.7,267.6Q597.0,267.6 597.0,269.9L597.0,291.7Q597.0,294.0 599.3,294.0L634.2,294.0Q636.5,294.0 636.5,296.3L636.5,387.2Q636.5,389.5 634.2,389.5L602.1,389.5Q599.8,389.5 599.8,391.8L599.8,443.7Q599.8,446.0 597.5,446.0L590.3,446.0Q588.0,446.0 588.0,443.7L588.0,400.8Q588.0,398.5 585.7,398.5L556.7,398.5Q554.4,398.5 554.4,396.2L554.4,362.1Q554.4,359.8 556.7,359.8L606.2,359.8Q608.5,359.8 608.5,357.5L608.5,306.8Q608.5,304.5 606.2,304.5L555.8,304.5Q553.5,304.5 553.5,302.2Z" fill="#2f1f5a" transform="translate(-0.75,0.55)"/><path d="M553.5,269.9Q553.5,267.6 555.8,267.6L594.7,267.6Q597.0,267.6 597.0,269.9L597.0,291.7Q597.0,294.0 599.3,294.0L634.2,294.0Q636.5,294.0 636.5,296.3L636.5,387.2Q636.5,389.5 634.2,389.5L602.1,389.5Q599.8,389.5 599.8,391.8L599.8,443.7Q599.8,446.0 597.5,446.0L590.3,446.0Q588.0,446.0 588.0,443.7L588.0,400.8Q588.0,398.5 585.7,398.5L556.7,398.5Q554.4,398.5 554.4,396.2L554.4,362.1Q554.4,359.8 556.7,359.8L606.2,359.8Q608.5,359.8 608.5,357.5L608.5,306.8Q608.5,304.5 606.2,304.5L555.8,304.5Q553.5,304.5 553.5,302.2Z" fill="#4f378e"/>
<path d="M646.0,376.8Q646.0,374.8 648.0,374.8L672.8,374.8Q674.8,374.8 674.8,376.8L674.8,381.0Q674.8,383.0 672.8,383.0L648.0,383.0Q646.0,383.0 646.0,381.0Z" fill="#1f7196" transform="translate(-1.80,1.20)"/><path d="M646.0,376.8Q646.0,374.8 648.0,374.8L672.8,374.8Q674.8,374.8 674.8,376.8L674.8,381.0Q674.8,383.0 672.8,383.0L648.0,383.0Q646.0,383.0 646.0,381.0Z" fill="#1f7196" transform="translate(-1.35,0.90)"/><path d="M646.0,376.8Q646.0,374.8 648.0,374.8L672.8,374.8Q674.8,374.8 674.8,376.8L674.8,381.0Q674.8,383.0 672.8,383.0L648.0,383.0Q646.0,383.0 646.0,381.0Z" fill="#1f7196" transform="translate(-0.90,0.60)"/><path d="M646.0,376.8Q646.0,374.8 648.0,374.8L672.8,374.8Q674.8,374.8 674.8,376.8L674.8,381.0Q674.8,383.0 672.8,383.0L648.0,383.0Q646.0,383.0 646.0,381.0Z" fill="#1f7196" transform="translate(-0.45,0.30)"/><path d="M646.0,376.8Q646.0,374.8 648.0,374.8L672.8,374.8Q674.8,374.8 674.8,376.8L674.8,381.0Q674.8,383.0 672.8,383.0L648.0,383.0Q646.0,383.0 646.0,381.0Z" fill="#3ba7d4"/>
<path d="M610.7,400.5Q610.7,398.2 613.0,398.2L635.4,398.2Q637.7,398.2 637.7,400.5L637.7,444.2Q637.7,446.5 635.4,446.5L627.3,446.5Q625.0,446.5 625.0,444.2L625.0,418.0Q625.0,415.7 622.7,415.7L616.0,415.7Q613.7,415.7 613.7,418.0L613.7,418.9Q613.7,420.4 612.2,420.4L612.2,420.4Q610.7,420.4 610.7,418.9Z" fill="#1f7196" transform="translate(-4.20,2.20)"/><path d="M610.7,400.5Q610.7,398.2 613.0,398.2L635.4,398.2Q637.7,398.2 637.7,400.5L637.7,444.2Q637.7,446.5 635.4,446.5L627.3,446.5Q625.0,446.5 625.0,444.2L625.0,418.0Q625.0,415.7 622.7,415.7L616.0,415.7Q613.7,415.7 613.7,418.0L613.7,418.9Q613.7,420.4 612.2,420.4L612.2,420.4Q610.7,420.4 610.7,418.9Z" fill="#1f7196" transform="translate(-3.15,1.65)"/><path d="M610.7,400.5Q610.7,398.2 613.0,398.2L635.4,398.2Q637.7,398.2 637.7,400.5L637.7,444.2Q637.7,446.5 635.4,446.5L627.3,446.5Q625.0,446.5 625.0,444.2L625.0,418.0Q625.0,415.7 622.7,415.7L616.0,415.7Q613.7,415.7 613.7,418.0L613.7,418.9Q613.7,420.4 612.2,420.4L612.2,420.4Q610.7,420.4 610.7,418.9Z" fill="#1f7196" transform="translate(-2.10,1.10)"/><path d="M610.7,400.5Q610.7,398.2 613.0,398.2L635.4,398.2Q637.7,398.2 637.7,400.5L637.7,444.2Q637.7,446.5 635.4,446.5L627.3,446.5Q625.0,446.5 625.0,444.2L625.0,418.0Q625.0,415.7 622.7,415.7L616.0,415.7Q613.7,415.7 613.7,418.0L613.7,418.9Q613.7,420.4 612.2,420.4L612.2,420.4Q610.7,420.4 610.7,418.9Z" fill="#1f7196" transform="translate(-1.05,0.55)"/><path d="M610.7,400.5Q610.7,398.2 613.0,398.2L635.4,398.2Q637.7,398.2 637.7,400.5L637.7,444.2Q637.7,446.5 635.4,446.5L627.3,446.5Q625.0,446.5 625.0,444.2L625.0,418.0Q625.0,415.7 622.7,415.7L616.0,415.7Q613.7,415.7 613.7,418.0L613.7,418.9Q613.7,420.4 612.2,420.4L612.2,420.4Q610.7,420.4 610.7,418.9Z" fill="#3ba7d4"/>
<path d="M610.7,422.7Q610.7,420.7 612.7,420.7L618.5,420.7Q620.5,420.7 620.5,422.7L620.5,444.5Q620.5,446.5 618.5,446.5L612.7,446.5Q610.7,446.5 610.7,444.5Z" fill="#3a5878" transform="translate(-3.50,2.20)"/><path d="M610.7,422.7Q610.7,420.7 612.7,420.7L618.5,420.7Q620.5,420.7 620.5,422.7L620.5,444.5Q620.5,446.5 618.5,446.5L612.7,446.5Q610.7,446.5 610.7,444.5Z" fill="#3a5878" transform="translate(-2.62,1.65)"/><path d="M610.7,422.7Q610.7,420.7 612.7,420.7L618.5,420.7Q620.5,420.7 620.5,422.7L620.5,444.5Q620.5,446.5 618.5,446.5L612.7,446.5Q610.7,446.5 610.7,444.5Z" fill="#3a5878" transform="translate(-1.75,1.10)"/><path d="M610.7,422.7Q610.7,420.7 612.7,420.7L618.5,420.7Q620.5,420.7 620.5,422.7L620.5,444.5Q620.5,446.5 618.5,446.5L612.7,446.5Q610.7,446.5 610.7,444.5Z" fill="#3a5878" transform="translate(-0.88,0.55)"/><path d="M610.7,422.7Q610.7,420.7 612.7,420.7L618.5,420.7Q620.5,420.7 620.5,422.7L620.5,444.5Q620.5,446.5 618.5,446.5L612.7,446.5Q610.7,446.5 610.7,444.5Z" fill="#5b7fa6"/>
<text x="595" y="31.6" font-size="17" font-weight="700" fill="#fff">E3</text>
<text x="527.2" y="342" font-size="17" font-weight="700" fill="#fff">F3</text>
</g>
<g id="connectors">
<polyline points="222.0,277.0 234.3,277.0 234.3,241.2 336.3,241.2 336.3,198.0" fill="none" stroke="#62a4c4" stroke-width="1" />
<circle cx="336.3" cy="198.0" r="2.2" fill="#1587cd"/>
<polyline points="117.0,323.8 67.8,323.8 67.8,255.6 154.0,255.6 154.0,191.4" fill="none" stroke="#dba68e" stroke-width="1" />
<circle cx="154.0" cy="191.4" r="2.3" fill="#e0663e"/>
<polyline points="117.0,370.0 11.0,370.0 11.0,81.2 40.8,81.2" fill="none" stroke="#c6cc8e" stroke-width="1" />
<circle cx="40.8" cy="81.2" r="2.2" fill="#8fa421"/>
<polyline points="117.0,416.8 25.7,416.8 25.7,155.5 40.8,155.5" fill="none" stroke="#66828a" stroke-width="1" />
<circle cx="40.8" cy="155.5" r="2.2" fill="#164a4c"/>
<polyline points="380.0,276.7 493.5,276.7 493.5,108.6 522.7,108.6" fill="none" stroke="#ddb0d4" stroke-width="1" />
<circle cx="522.7" cy="108.6" r="2.2" fill="#e38bc1"/>
<polyline points="380.0,323.2 507.7,323.2 507.7,232.5 536.8,232.5" fill="none" stroke="#6c6c74" stroke-width="1" />
<polyline points="548.5,185.6 536.8,185.6 536.8,287.0 545.5,287.0" fill="none" stroke="#6a5aa0" stroke-width="1" />
<circle cx="548.5" cy="185.6" r="2.2" fill="#4f378e"/>
<circle cx="545.5" cy="287.0" r="2.2" fill="#4f378e"/>
<polyline points="380.0,370.0 474.7,370.0 474.7,239.9 602.6,239.9" fill="none" stroke="#e8dc68" stroke-width="1.2" />
<circle cx="602.4" cy="239.9" r="2.3" fill="#ecd020"/>
<polyline points="380.0,416.8 446.7,416.8 446.7,486.6 645.6,486.6 645.6,468.0 660.9,468.0 660.9,389.0" fill="none" stroke="#8cc6dc" stroke-width="1" />
<circle cx="660.9" cy="389.2" r="2.3" fill="#3ba7d4"/>
<polyline points="380.0,463.3 613.6,463.3 613.6,457.0" fill="none" stroke="#7f9cb0" stroke-width="1" />
<circle cx="613.6" cy="456.5" r="1.8" fill="#5a80a8"/>
</g>
<g id="legend">
<rect x="117.0" y="267.4" width="105.3" height="18.9" rx="9.45" fill="#1a8dd8"/><g transform="translate(124.1,270.8)" fill="#fff"><path d="M0,3.9 Q5.6,-1.2 11.2,3.9 L11.2,4.4 L0,4.4 Z"/><rect x="0.6" y="4.9" width="10" height="0.9"/><rect x="0.5" y="6.1" width="1.8" height="4.5"/><rect x="3.3" y="6.1" width="1.8" height="4.5"/><rect x="6.1" y="6.1" width="1.8" height="4.5"/><rect x="8.9" y="6.1" width="1.8" height="4.5"/><rect x="0" y="10.9" width="11.2" height="1.2"/></g><text x="145.2" y="280.3" font-size="9" font-weight="700" fill="#fff" letter-spacing="0.35">D3</text><text x="117.10" y="300.95" font-size="11.65" font-weight="500" fill="#1c1c1c">品牌馆展区</text>
<rect x="117.0" y="314.1" width="105.3" height="18.9" rx="9.45" fill="#ee6c42"/><g transform="translate(130.0,323.6)" fill="none" stroke="#fff" stroke-linecap="round" stroke-linejoin="round" stroke-width="0.8" opacity="0.9"><path d="M-5.44,-2.54 A6,6 0 0 1 5.44,-2.54"/><path d="M5.44,2.54 A6,6 0 0 1 -5.44,2.54"/><path d="M3.88,-3.63 L5.44,-2.54 L5.60,-4.43"/><path d="M-3.88,3.63 L-5.44,2.54 L-5.60,4.43"/><path d="M1.7,-4.2 L-1.8,0.5 L1.4,0 L-1.0,4.3" stroke-width="1.15"/></g><text x="145.2" y="327.0" font-size="9" font-weight="700" fill="#fdeee6" letter-spacing="0.35">C3-1</text><text x="117.10" y="347.65" font-size="11.65" font-weight="500" fill="#1c1c1c">新能源&amp;热管理展区</text>
<rect x="117.0" y="360.9" width="105.3" height="18.9" rx="9.45" fill="#8fa421"/><g transform="translate(129.7,370.2)" fill="none" stroke="#fff" stroke-linecap="round" stroke-linejoin="round" stroke-width="0.75" stroke="#e8efc0" opacity="0.95"><circle cx="2.2" cy="-3.3" r="2.9" stroke-dasharray="1.3 0.7" stroke-width="1.3"/><circle cx="2.2" cy="-3.3" r="1.2"/><circle cx="-5.0" cy="2.6" r="2.2"/><circle cx="-5.0" cy="2.6" r="0.8"/><circle cx="4.0" cy="4.3" r="1.5"/><path d="M-6.6,1.0 L0.2,-5.2"/><path d="M-4.2,4.8 L0,5.0"/><path d="M5.3,-1 L5.5,3.2"/></g><text x="145.2" y="373.8" font-size="9" font-weight="700" fill="#f4f8d8" letter-spacing="0.35">C3-2</text><text x="117.10" y="394.35" font-size="11.65" font-weight="500" fill="#1c1c1c">动力总成展区</text>
<rect x="117.0" y="407.6" width="105.3" height="18.9" rx="9.45" fill="#164a4c"/><g transform="translate(129.8,417.1)" fill="#fff"><path d="M-4.6,-6.2 H4.6 V-3.2 H3.4 V-4.4 H1.2 L1.6,-1.8 A2,2 0 0 1 1.6,1.8 L1.2,4.4 H3.4 V3.2 H4.6 V6.2 H-4.6 V3.2 H-3.4 V4.4 H-1.2 L-1.6,1.8 A2,2 0 0 1 -1.6,-1.8 L-1.2,-4.4 H-3.4 V-3.2 H-4.6 Z"/><circle cx="0" cy="0" r="0.8" fill="#164a4c"/></g><text x="145.2" y="420.4" font-size="9" font-weight="700" fill="#fff" letter-spacing="0.35">C3-3</text><text x="117.10" y="441.05" font-size="11.65" font-weight="500" fill="#1c1c1c">底盘展区</text>
<rect x="274.5" y="267.4" width="105.3" height="18.9" rx="9.45" fill="#ee8fc6"/><g transform="translate(287.5,277.1)" fill="#fff"><path d="M-1.3,-6 H1.3 L1.6,-3.6 H-1.6 Z"/><path d="M-2.4,-3.2 H2.4 L3.3,3.2 H-3.3 Z"/><path d="M-4.8,-0.6 L-3.9,-0.6 L-3.6,3.9 H3.6 L3.9,-0.6 L4.8,-0.6 L4.4,4.9 H-4.4 Z"/><rect x="-4.2" y="5.4" width="8.4" height="0.7"/></g><text x="300.6" y="280.3" font-size="9" font-weight="700" fill="#fdeaf5" letter-spacing="0.35">E3</text><text x="274.60" y="300.95" font-size="11.65" font-weight="500" fill="#1c1c1c">内外饰展区</text>
<rect x="274.5" y="314.1" width="105.3" height="18.9" rx="9.45" fill="#4f378e"/><g transform="translate(287.2,323.6)" fill="none" stroke="#fff" stroke-linecap="round" stroke-linejoin="round" stroke-width="0.8"><rect x="-6" y="-3.6" width="12" height="7.2" rx="0.8"/><path d="M-7.2,-2.2 H-6 M-7.2,0 H-6 M-7.2,2.2 H-6 M7.2,-2.2 H6 M7.2,0 H6 M7.2,2.2 H6" stroke-width="0.7"/><path d="M-4.2,2.4 V-1.6 M-2.6,2.4 V0.6 M-1,2.4 V0.6 M0.6,2.4 V-0.4 M2.2,2.4 V0.8 M3.8,2.4 V-1.8" stroke-width="0.9" stroke-linecap="butt"/></g><text x="300.6" y="327.0" font-size="9" font-weight="700" fill="#fff" letter-spacing="0.35">E3/F3-1</text><text x="274.60" y="347.65" font-size="11.65" font-weight="500" fill="#1c1c1c">成像及LiDAR&amp;光通信&amp;封装展区</text>
<rect x="274.5" y="360.9" width="105.3" height="18.9" rx="9.45" fill="#e6c41e"/><g transform="translate(286.9,369.9)" fill="none" stroke="#fff8d0" stroke-linecap="round" stroke-linejoin="round"><circle cx="-2" cy="-4.6" r="1.2" fill="#fff8d0" stroke="none"/><path d="M-3.0,-2.4 L-2.2,1.4 H1.6 L2.6,5.2 H4.2" stroke-width="1.5"/><path d="M-4.4,-0.6 L-3.6,3.4 H0.2" stroke-width="0.8"/></g><text x="300.6" y="373.8" font-size="9" font-weight="700" fill="#fff6c4" letter-spacing="0.35">E3/F3-2</text><text x="274.60" y="394.35" font-size="11.65" font-weight="500" fill="#1c1c1c">未来座舱展区</text>
<rect x="274.5" y="407.6" width="105.3" height="18.9" rx="9.45" fill="#3eb2e0"/><g transform="translate(288.8,417.3)" fill="none" stroke="#fff" stroke-linecap="round" stroke-linejoin="round" stroke-width="0.75" stroke="#d8f0fa"><circle cx="0" cy="0" r="0.8" fill="#d8f0fa" stroke="none"/><path d="M-2.1,-2.4 A3.2,3.2 0 0 0 -2.1,2.4 M2.1,-2.4 A3.2,3.2 0 0 1 2.1,2.4"/><path d="M-3.7,-3.9 A5.4,5.4 0 0 0 -3.7,3.9 M3.7,-3.9 A5.4,5.4 0 0 1 3.7,3.9"/><path d="M-5.4,-5.2 A7.5,7.5 0 0 0 -5.4,5.2 M5.4,-5.2 A7.5,7.5 0 0 1 5.4,5.2"/></g><text x="300.6" y="420.4" font-size="9" font-weight="700" fill="#e4f6fc" letter-spacing="0.35">F3-1</text><text x="274.60" y="441.05" font-size="11.65" font-weight="500" fill="#1c1c1c">汽车雷达展区</text>
<rect x="274.5" y="454.2" width="105.3" height="18.9" rx="9.45" fill="#5b82a6"/><g transform="translate(288.5,463.5)" fill="none" stroke="#fff" stroke-linecap="round" stroke-linejoin="round" stroke-width="0.8" stroke="#dde6ee"><circle cx="0" cy="0" r="5.9"/><circle cx="0" cy="0" r="4.0" stroke-dasharray="1.2 0.9" stroke-width="1.3"/><circle cx="0" cy="0" r="1.9"/><circle cx="0" cy="0" r="0.6" fill="#dde6ee" stroke="none"/></g><text x="300.6" y="467.1" font-size="9" font-weight="700" fill="#eef3f8" letter-spacing="0.35">F3-2</text><text x="274.60" y="487.75" font-size="11.65" font-weight="500" fill="#1c1c1c">惯导及高精定位展区</text>
</g>
<g opacity="0.66"><text transform="translate(559.9,469.4) skewX(-8)" x="0" y="0" font-size="20.6" font-weight="900" fill="#ffffff" stroke="#fff" stroke-width="0.58" stroke-linejoin="round">鸿益康游戏坊</text></g>
</svg>
</body></html>
